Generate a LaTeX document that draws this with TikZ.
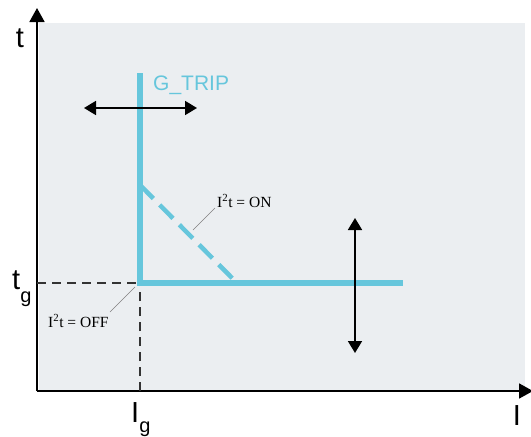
\documentclass[tikz,border=0pt]{standalone}
\usepackage{fontspec}
\setmainfont{Liberation Serif}
\setsansfont{Liberation Sans}
\usetikzlibrary{arrows.meta,positioning}
\definecolor{tripblue}{HTML}{66C6DC}
\definecolor{panel}{HTML}{EBEEF1}

\begin{document}
\begin{tikzpicture}[x=1pt, y=-1pt,
    axis/.style={line width=1.8pt, -{Triangle[length=14pt,width=15pt]}},
    tripline/.style={line width=5.5pt, tripblue},
    guideline/.style={line width=1.2pt, black!80, dash pattern=on 9pt off 6pt},
    adjarrow/.style={line width=1.8pt, {Triangle[length=12pt,width=14pt]}-{Triangle[length=12pt,width=14pt]}},
    leader/.style={line width=0.5pt, gray},
    axlbl/.style={inner sep=0pt, font=\sffamily\fontsize{29}{29}\selectfont},
    note/.style={inner sep=0pt, font=\fontsize{15.5}{15.5}\selectfont}
]
    \useasboundingbox (0,0) rectangle (531,437);
    \fill[panel] (39,23) rectangle (525,391);

    % Axes
    \coordinate (O) at (37,391);
    \coordinate (ytip) at (37,8);
    \coordinate (xtip) at (533,391);
    \draw[axis] (O) -- (ytip);
    \draw[axis] (O) -- (xtip);
    \node[axlbl, anchor=base] (tlbl) at (20,47) {t};
    \node[axlbl, anchor=base] (ilbl) at (517,425) {I};

    % Pickup point
    \coordinate (knee) at (140,283);
    \coordinate (tleft) at (37,283);
    \coordinate (ibot) at (140,391);
    \draw[guideline] (tleft) -- (knee);
    \draw[guideline] (ibot) -- (knee);
    \node[axlbl, anchor=base west] (tg) at (12,289)
        {t\raisebox{-13pt}{\fontsize{20}{20}\selectfont g}};
    \node[axlbl, anchor=base west] (ig) at (131,422)
        {I\raisebox{-10pt}{\fontsize{20}{20}\selectfont g}};

    % Trip curve
    \coordinate (top) at (140,73);
    \coordinate (tail) at (403,283);
    \coordinate (slopeA) at (140,185);
    \coordinate (slopeB) at (237,283);
    \draw[tripline] (top) -- (knee) -- (tail);
    \draw[tripline, line width=4.5pt, dash pattern=on 19pt off 9pt] (slopeA) -- (slopeB);
    \node[anchor=base west, inner sep=0pt, text=tripblue,
        font=\sffamily\fontsize{21}{21}\selectfont] (trip) at (153,90) {G\_TRIP};

    % Settings
    \node[note, anchor=base west] (on) at (217,207) {I\textsuperscript{2}t = ON};
    \node[note, anchor=base west] (off) at (48,327) {I\textsuperscript{2}t = OFF};
    \coordinate (onA) at (215,208);
    \coordinate (onB) at (193,230);
    \coordinate (offA) at (110,312);
    \coordinate (offB) at (135,287);
    \draw[leader] (onA) -- (onB);
    \draw[leader] (offA) -- (offB);

    % Adjustments
    \coordinate (hl) at (84,108);
    \coordinate (hr) at (197,108);
    \coordinate (vt) at (355,218);
    \coordinate (vb) at (355,353);
    \draw[adjarrow] (hl) -- (hr);
    \draw[adjarrow] (vt) -- (vb);
\end{tikzpicture}
\end{document}
